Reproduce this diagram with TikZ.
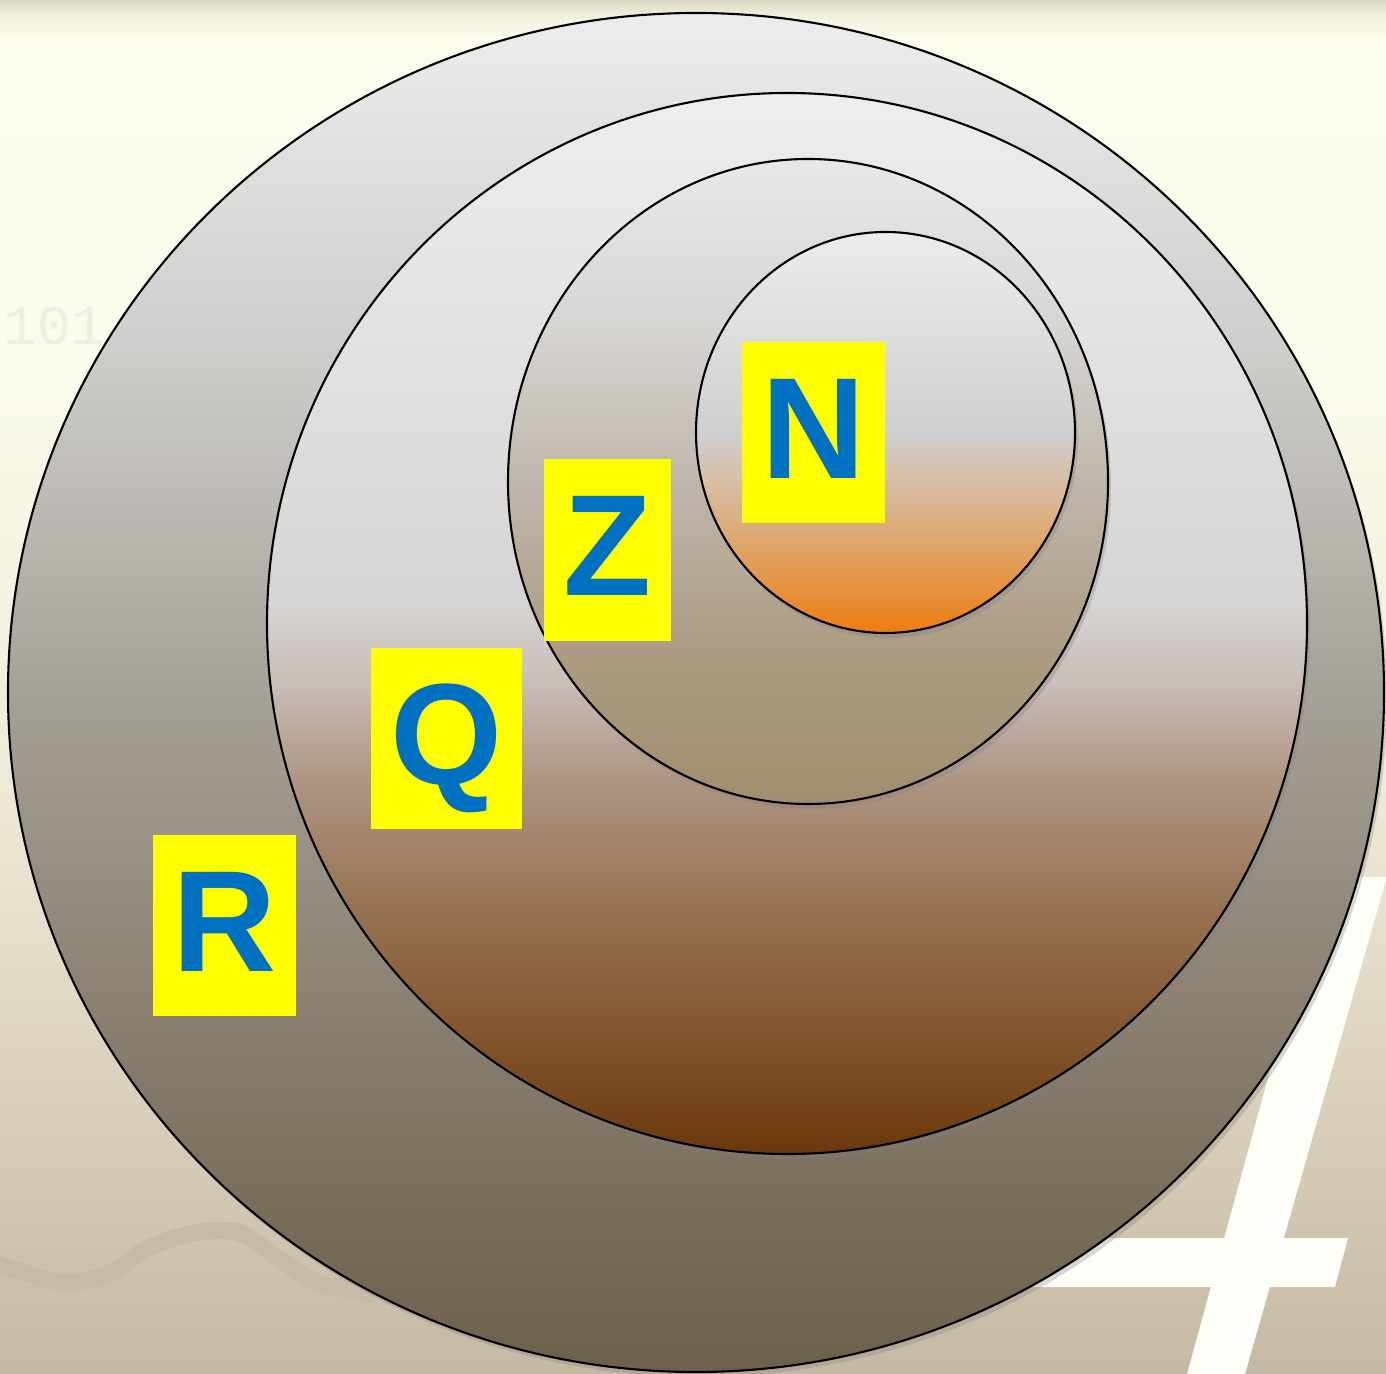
\documentclass[tikz,border=0pt]{standalone}
\usepackage{fontspec}
\setmainfont{Liberation Sans}
\newfontfamily\digitfont{Liberation Mono}
\usetikzlibrary{shadows}

\definecolor{tagblue}{RGB}{0,112,192}
\definecolor{tagyellow}{RGB}{255,255,0}
\definecolor{waveline}{RGB}{199,186,166}
\definecolor{digitgray}{RGB}{238,238,225}
% background stops
\definecolor{bgA}{RGB}{198,185,163}
\definecolor{bgB}{RGB}{238,233,214}
\definecolor{bgC}{RGB}{251,251,235}
\definecolor{bgD}{RGB}{253,253,237}
\definecolor{bgE}{RGB}{245,243,226}
\definecolor{bgF}{RGB}{222,216,198}
% ring R
\definecolor{rA}{RGB}{108,96,74}
\definecolor{rB}{RGB}{136,126,110}
\definecolor{rC}{RGB}{166,161,152}
\definecolor{rD}{RGB}{206,205,203}
\definecolor{rE}{RGB}{237,237,237}
% ring Q
\definecolor{qA}{RGB}{106,56,12}
\definecolor{qB}{RGB}{128,82,42}
\definecolor{qC}{RGB}{152,116,86}
\definecolor{qD}{RGB}{176,152,134}
\definecolor{qG}{RGB}{200,188,182}
\definecolor{qE}{RGB}{214,213,212}
\definecolor{qF}{RGB}{238,238,238}
% ring Z
\definecolor{zA}{RGB}{160,142,110}
\definecolor{zB}{RGB}{172,157,132}
\definecolor{zC}{RGB}{192,183,172}
\definecolor{zD}{RGB}{215,214,212}
\definecolor{zE}{RGB}{232,232,232}
% ring N
\definecolor{nA}{RGB}{238,125,18}
\definecolor{nB}{RGB}{222,165,105}
\definecolor{nC}{RGB}{215,190,165}
\definecolor{nD}{RGB}{208,208,208}
\definecolor{nE}{RGB}{236,236,236}

\pgfdeclareverticalshading{bgfade}{100bp}{color(0bp)=(bgA); color(25bp)=(bgA);
  color(45.9bp)=(bgB); color(60.4bp)=(bgC); color(73.5bp)=(bgD);
  color(74.3bp)=(bgE); color(75bp)=(bgF); color(100bp)=(bgF)}
\pgfdeclareverticalshading{rshade}{100bp}{color(0bp)=(rA); color(25bp)=(rA);
  color(37.5bp)=(rB); color(50bp)=(rC); color(62.5bp)=(rD);
  color(75bp)=(rE); color(100bp)=(rE)}
\pgfdeclareverticalshading{qshade}{100bp}{color(0bp)=(qA); color(25bp)=(qA);
  color(30bp)=(qB); color(37bp)=(qC); color(43bp)=(qD); color(47bp)=(qG);
  color(51bp)=(qE); color(75bp)=(qF); color(100bp)=(qF)}
\pgfdeclareverticalshading{zshade}{100bp}{color(0bp)=(zA); color(25bp)=(zA);
  color(37.5bp)=(zB); color(50bp)=(zC); color(62.5bp)=(zD);
  color(75bp)=(zE); color(100bp)=(zE)}
\pgfdeclareverticalshading{nshade}{100bp}{color(0bp)=(nA); color(25bp)=(nA);
  color(36bp)=(nB); color(44bp)=(nC); color(50bp)=(nD);
  color(75bp)=(nE); color(100bp)=(nE)}

\begin{document}
\begin{tikzpicture}[x=0.01cm, y=-0.01cm,
    ring/.style={draw=black, line width=0.6pt,
      drop shadow={shadow xshift=0.3mm, shadow yshift=-0.5mm, opacity=0.3}},
    tag/.style={fill=tagyellow, text=tagblue, inner ysep=0pt, inner xsep=0.195cm,
      minimum height=1.81cm, text height=1.03cm, text depth=0.12cm,
      font=\fontsize{41}{41}\selectfont\bfseries}]
  % background
  \useasboundingbox (0,0) rectangle (1386,1374);
  \shade[shading=bgfade] (0,0) rectangle (1386,1374);
  \node[anchor=west, inner sep=0pt, text=digitgray, font=\digitfont\fontsize{16}{16}\selectfont]
    (digits) at (3,326) {101 0};
  \draw[waveline, line width=0.17cm, line cap=round] plot[smooth] coordinates
    {(-20,1258) (60,1282) (110,1273) (150,1247) (200,1232) (240,1233) (277,1257) (317,1282) (370,1294)};
  % the white four
  \fill[white!60!bgD] (1323,877) -- (1386,877) -- (1386,880) -- (1245,1374) -- (1187,1374) -- cycle;
  \fill[white!60!bgD] (1000,1238) -- (1348,1238) -- (1335,1287) -- (1000,1287) -- cycle;
  % rings, outer to inner
  \shade[ring, shading=rshade] (696,692.5) ellipse [x radius=688, y radius=679.5];
  \shade[ring, shading=qshade] (787,623.5) ellipse [x radius=520, y radius=530.5];
  \shade[ring, shading=zshade] (808,481.5) ellipse [x radius=300, y radius=322.5];
  \shade[ring, shading=nshade] (885.5,432.5) ellipse [x radius=189.5, y radius=200.5];
  % labels
  \node[tag] (tagN) at (813.5,432.5) {N};
  \node[tag] (tagZ) at (607.5,550) {Z};
  \node[tag] (tagQ) at (446.5,738.5) {Q};
  \node[tag] (tagR) at (224.5,925.5) {R};
\end{tikzpicture}
\end{document}
